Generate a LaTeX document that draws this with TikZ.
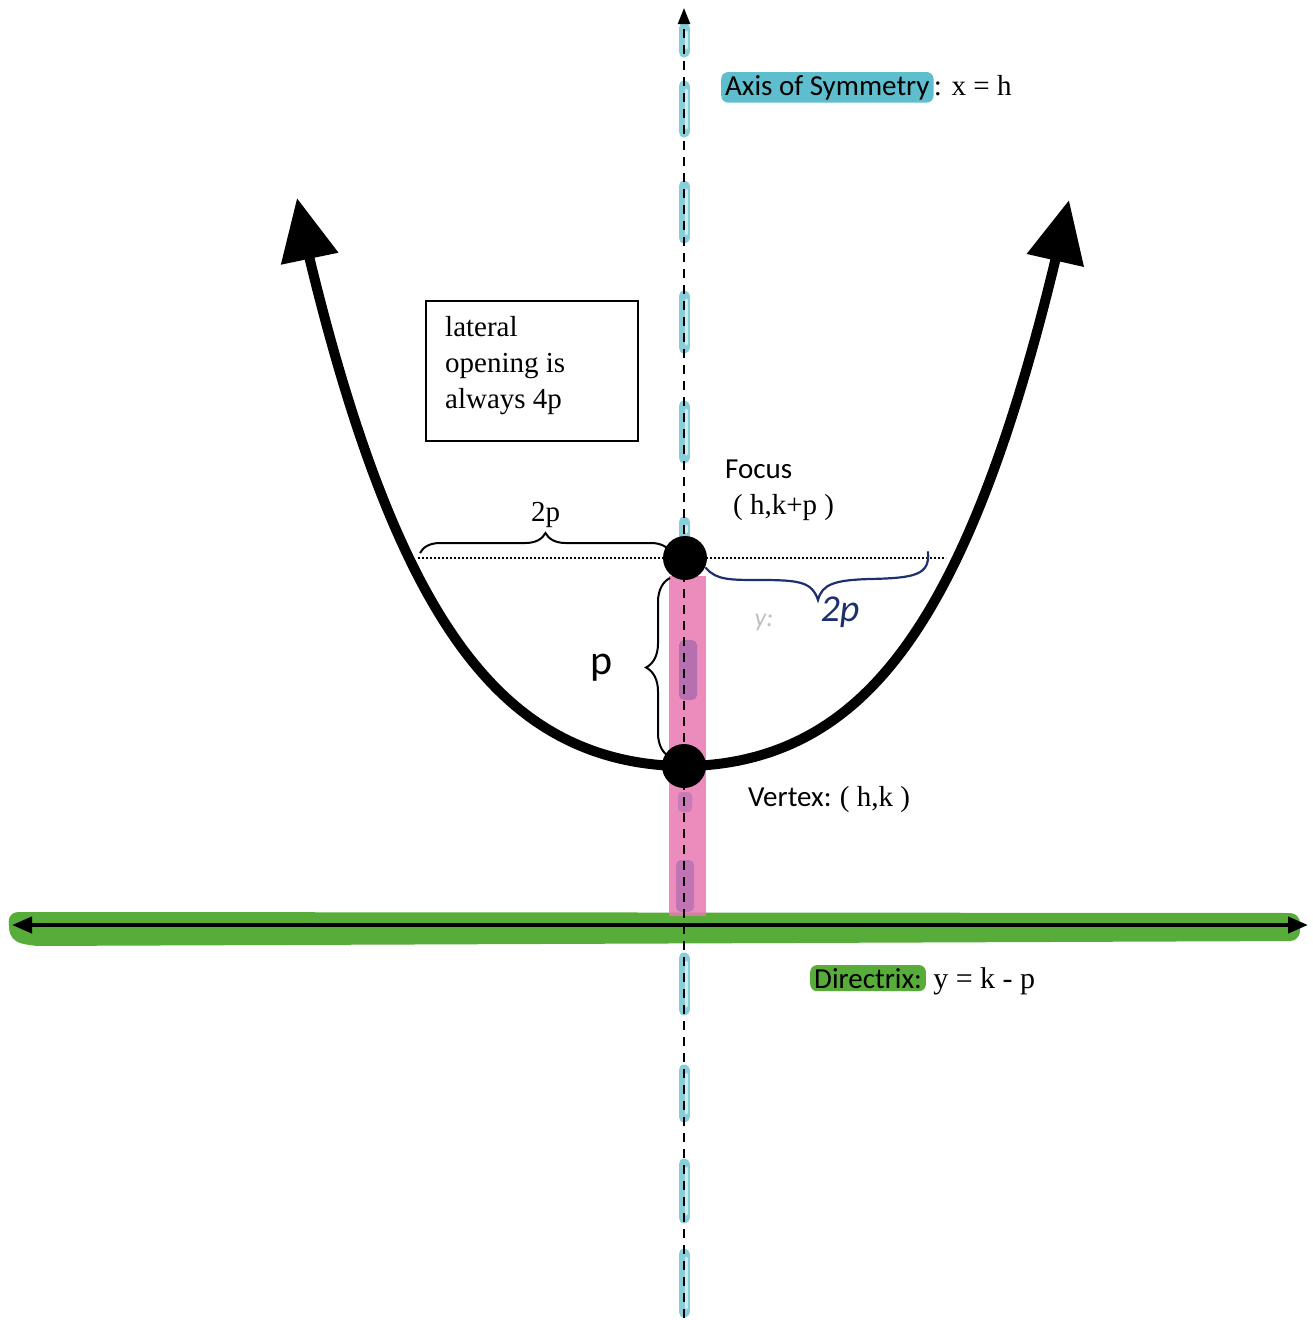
\documentclass[tikz,border=0pt]{standalone}
\usepackage{fontspec}
\setmainfont{Liberation Serif}
\newfontfamily\calib{Carlito}
\usetikzlibrary{arrows.meta,decorations.pathreplacing}
\definecolor{hlcyan}{RGB}{95,190,205}
\definecolor{hlpink}{RGB}{232,120,178}
\definecolor{hlpurple}{RGB}{140,90,165}
\definecolor{hlgreen}{RGB}{88,172,58}
\definecolor{inkblue}{RGB}{28,48,112}
\tikzset{
  sanslabel/.style={font=\calib\fontsize{29}{34}\selectfont, inner sep=0pt},
  seriflabel/.style={font=\fontsize{29}{36}\selectfont, inner sep=0pt},
  parab/.style={line width=10pt, line join=round, -{Triangle[length=62pt,width=56pt]}},
  dotnode/.style={circle, fill=black, minimum size=44pt, inner sep=0pt},
  axisline/.style={line width=2.4pt, dash pattern=on 9pt off 7pt, -{Triangle[length=16pt,width=12pt]}},
  dirline/.style={line width=4pt, {Triangle[length=20pt,width=16pt]}-{Triangle[length=20pt,width=16pt]}},
  cyanmark/.style={hlcyan, line width=11pt, line cap=round, opacity=0.75},
  cyanhole/.style={white, line width=3pt, line cap=round, opacity=0.6},
  bracestyle/.style={line width=2pt, decorate}
}
\begin{document}
\begin{tikzpicture}[x=1pt,y=-1pt]
\useasboundingbox (0,0) rectangle (1312,1320);

% ---------- highlighter marks ----------
\fill[hlgreen, rounded corners=10pt] (8,912) -- (1300,913) -- (1300,941) -- (30,946) -- (10,940) -- cycle;
\fill[hlpink, opacity=0.85] (669,576) rectangle (706,916);
\fill[hlpurple, opacity=0.55, rounded corners=5pt] (679,640) rectangle (697,700);
\fill[hlpurple, opacity=0.45, rounded corners=5pt] (676,860) rectangle (694,912);
\fill[hlpurple, opacity=0.35, rounded corners=4pt] (678,792) rectangle (692,812);
\foreach \a/\b in {28/52, 86/132, 186/238, 296/348, 406/458, 522/536, 958/1010, 1070/1117, 1164/1218, 1254/1312}{
  \draw[cyanmark] (684,\a) -- (684,\b);
  \draw[cyanhole] (686,\a+4) -- (686,\b-4);
}

% ---------- axis of symmetry ----------
\coordinate (axB) at (684,1318);
\coordinate (axT) at (684,8);
\draw[axisline] (axB) -- (axT);

% ---------- directrix ----------
\coordinate (dirL) at (12,925);
\coordinate (dirR) at (1308,925);
\draw[dirline] (dirL) -- (dirR);

% ---------- latus rectum dotted line ----------
\coordinate (latL) at (418,558);
\coordinate (latR) at (946,558);
\draw[line width=2.5pt, dash pattern=on 2pt off 2pt] (latL) -- (latR);

% ---------- parabola ----------
\coordinate (tipL) at (297,198);
\coordinate (tipR) at (1069,200);
\draw[parab] plot[domain=0:372, samples=90] ({684+\x},{766-131*(\x/273)^2-77*(\x/273)^4}) -- (tipR);
\draw[parab] plot[domain=0:374, samples=90] ({684-\x},{766-131*(\x/275)^2-77*(\x/275)^4}) -- (tipL);

% ---------- focus and vertex ----------
\node[dotnode] (focus) at (685,558) {};
\node[dotnode] (vertex) at (684,766) {};

% ---------- box ----------
\node[draw, line width=1.6pt, minimum width=212pt, minimum height=140pt, anchor=north west,
      inner sep=0pt] (box) at (425,300) {};
\node[seriflabel, anchor=north west, align=left] (boxtxt) at (445,316)
  {lateral\\opening is\\always 4p};

% ---------- braces ----------
\draw[bracestyle, decoration={brace, amplitude=20pt}] (420,553) -- (671,553)
  node[midway, above=24pt, seriflabel] (lbl2p) {2p};
\draw[bracestyle, decoration={brace, amplitude=24pt}] (670,757) -- (670,578)
  node[midway, left=56pt, sanslabel, font=\calib\fontsize{42}{46}\selectfont] (lblp) {p};
\draw[inkblue, line width=2.2pt, line cap=round]
  (706,568) .. controls (716,580) and (730,580) .. (760,580)
  .. controls (800,580) and (812,582) .. (818,600)
  .. controls (822,584) and (835,580) .. (870,579)
  .. controls (915,578) and (930,575) .. (928,552);
\node[inkblue, font=\calib\itshape\fontsize{38}{40}\selectfont, inner sep=0pt] (hw2p) at (840,612) {2p};
\node[black!25, font=\calib\itshape\fontsize{26}{30}\selectfont, inner sep=0pt] (hwy) at (764,622) {y:};

% ---------- labels ----------
\node[sanslabel, fill=hlcyan, rounded corners=7pt, inner xsep=4pt, inner ysep=3pt, anchor=base west]
  (axlab) at (721,95) {Axis of Symmetry};
\node[seriflabel, anchor=base west] (axeq) at (axlab.base east) {: x = h};

\node[sanslabel, anchor=base west] (foclab) at (725,478) {Focus};
\node[seriflabel, anchor=base west] (foceq) at (733,514) {( h,k+p )};

\node[sanslabel, anchor=base west] (vertlab) at (748,806) {Vertex:};
\node[seriflabel, anchor=base west] (verteq) at ([xshift=8pt]vertlab.base east) {( h,k )};

\node[sanslabel, fill=hlgreen, rounded corners=7pt, inner xsep=4pt, inner ysep=3pt, anchor=base west]
  (dirlab) at (810,988) {Directrix:};
\node[seriflabel, font=\fontsize{30}{36}\selectfont, anchor=base west] (direq) at ([xshift=7pt]dirlab.base east) {y = k - p};
\end{tikzpicture}
\end{document}
